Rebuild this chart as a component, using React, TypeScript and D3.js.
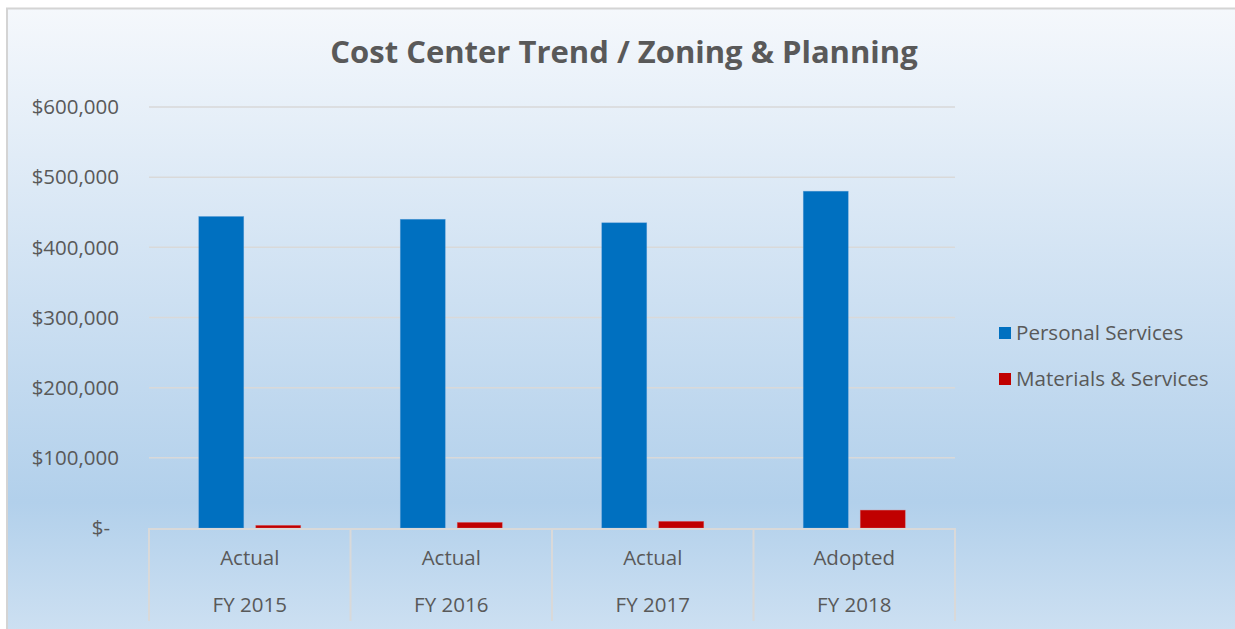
import React from "react";
import * as d3 from "d3";

const categories = ["FY 2015", "FY 2016", "FY 2017", "FY 2018"];
const categoryTop = ["Actual", "Actual", "Actual", "Adopted"];
const seriesNames = ["Personal Services", "Materials & Services"];
const personalServices = [444000, 440000, 435000, 480000];
const materialsServices = [3800, 8000, 9500, 25500];
const yTicks = [0, 100000, 200000, 300000, 400000, 500000, 600000];
const colors = ["#0070c0", "#c00000"];

const W = 1235;
const H = 629;
const font = "'Open Sans', 'Noto Sans', sans-serif";
const textColor = "#595959";
const fs = 20.5;

export default function App() {
  const x = d3.scaleBand<string>().domain(categories).range([149, 955]).paddingInner(0).paddingOuter(0);
  const y = d3.scaleLinear().domain([0, 600000]).range([528, 107]);
  const barW = 45;
  const gap = 12;
  const fmt = (v: number) => (v === 0 ? "$-" : "$" + d3.format(",")(v));
  const series = [personalServices, materialsServices];

  return (
    <svg width={W} height={H} style={{ position: "absolute", left: 0, top: 0 }} fontFamily={font}>
      <defs>
        <linearGradient id="bg" x1="0" y1="0" x2="0" y2="1">
          <stop offset="0" stopColor="#f5f8fc" />
          <stop offset="0.45" stopColor="#cde0f2" />
          <stop offset="0.76" stopColor="#b2d0eb" />
          <stop offset="1" stopColor="#d2e3f3" />
        </linearGradient>
      </defs>
      <rect x={0} y={0} width={W} height={H} fill="#ffffff" />
      <rect x={7} y={8.5} width={W} height={H + 20} fill="url(#bg)" stroke="#d4d4d4" strokeWidth={2} />
      <text x={624} y={63} textAnchor="middle" fontSize={31} fontWeight="bold" fill={textColor}>
        Cost Center Trend / Zoning &amp; Planning
      </text>
      {yTicks.map((t) => (
        <g key={t}>
          {t > 0 && <line x1={149} x2={955} y1={y(t)} y2={y(t)} stroke="#d9d9d9" strokeWidth={1.5} />}
          <text x={t === 0 ? 110 : 119} y={y(t)} dy="0.35em" textAnchor="end" fontSize={fs} fill={textColor}>
            {fmt(t)}
          </text>
        </g>
      ))}
      {categories.map((c, i) => {
        const cx = (x(c) as number) + x.bandwidth() / 2;
        return (
          <g key={c}>
            {series.map((s, k) => {
              const bx = cx - (barW * 2 + gap) / 2 + k * (barW + gap);
              return (
                <rect
                  key={k}
                  x={bx}
                  y={y(s[i])}
                  width={barW}
                  height={y(0) - y(s[i])}
                  fill={colors[k]}
                  stroke={k === 0 ? "#5b9bd5" : "#e06666"}
                  strokeWidth={0.6}
                  strokeOpacity={0.6}
                />
              );
            })}
            <text x={cx} y={558} dy="0.35em" textAnchor="middle" fontSize={fs} fill={textColor}>
              {categoryTop[i]}
            </text>
            <text x={cx} y={605} dy="0.35em" textAnchor="middle" fontSize={fs} fill={textColor}>
              {c}
            </text>
          </g>
        );
      })}
      <line x1={149} x2={955} y1={y(0) + 1} y2={y(0) + 1} stroke="#d9d9d9" strokeWidth={2} />
      {d3.range(categories.length + 1).map((j) => {
        const lx = j < categories.length ? (x(categories[j]) as number) : 955;
        return <line key={j} x1={lx} x2={lx} y1={y(0)} y2={621} stroke="#d9d9d9" strokeWidth={2} />;
      })}
      {seriesNames.map((n, k) => (
        <g key={n} transform={`translate(999, ${333 + k * 46})`}>
          <rect x={0} y={-6} width={12} height={12} fill={colors[k]} />
          <text x={17} y={0} dy="0.35em" fontSize={20.6} fill={textColor}>
            {n}
          </text>
        </g>
      ))}
    </svg>
  );
}
